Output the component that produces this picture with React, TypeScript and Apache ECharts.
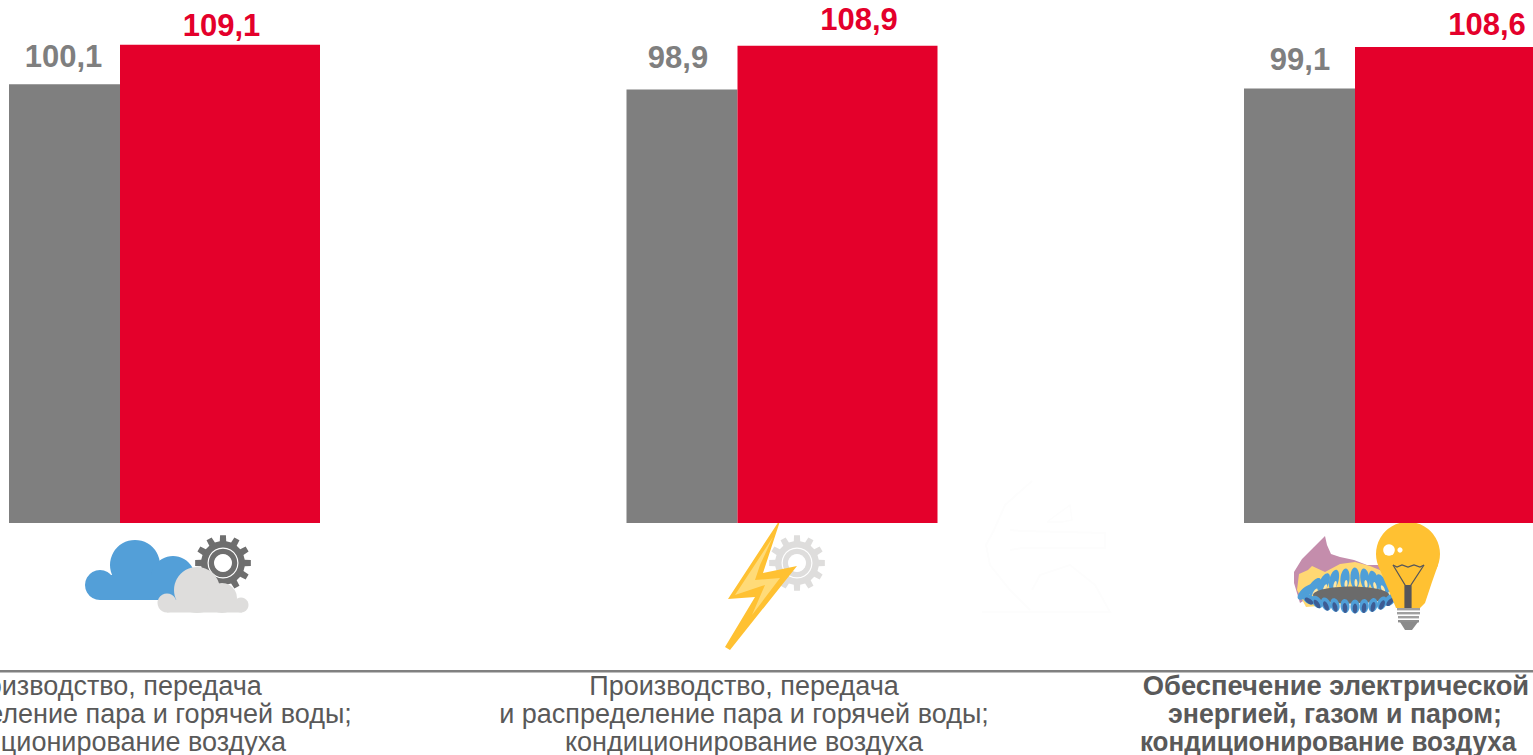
import React, { useEffect, useRef } from "react";
import * as echarts from "echarts";

const categories = ["Производство 1", "Производство 2", "Обеспечение"];
const prevValues = [100.1, 98.9, 99.1];
const currValues = [109.1, 108.9, 108.6];
const axisLines = [
  ["Производство, передача", "и распределение пара и горячей воды;", "кондиционирование воздуха"],
  ["Производство, передача", "и распределение пара и горячей воды;", "кондиционирование воздуха"],
  ["Обеспечение электрической", "энергией, газом и паром;", "кондиционирование воздуха"],
];

const prevLabelOffsets = [[-1, -12], [-4, -16], [0.5, -14]];
const currLabelOffsets = [[1.5, -4], [21.5, -11], [32, -7]];
const textCenters = [107, 744, 1335];
const boldLineScale = [0.977, 0.956, 0.929];
const boldLineShift = [1, 0, -7];
const fmt = (v: number) => v.toFixed(1).replace(".", ",");

function gear(cx: number, cy: number, outer: number, root: number, fill: string) {
  const pts: number[][] = [];
  const teeth = 12;
  const step = (Math.PI * 2) / teeth;
  for (let i = 0; i < teeth; i++) {
    const a = i * step - Math.PI / 2;
    const w = step * 0.2;
    const w2 = step * 0.28;
    pts.push([cx + root * Math.cos(a - w2), cy + root * Math.sin(a - w2)]);
    pts.push([cx + outer * Math.cos(a - w), cy + outer * Math.sin(a - w)]);
    pts.push([cx + outer * Math.cos(a + w), cy + outer * Math.sin(a + w)]);
    pts.push([cx + root * Math.cos(a + w2), cy + root * Math.sin(a + w2)]);
  }
  return [
    { type: "polygon", shape: { points: pts }, style: { fill } },
    { type: "circle", shape: { cx, cy, r: root - 1 }, style: { fill } },
    { type: "ring", shape: { cx, cy, r: 15.5, r0: 14.3 }, style: { fill: "#fff" } },
    { type: "circle", shape: { cx, cy, r: 9 }, style: { fill: "#fff" } },
  ];
}
const circle = (cx: number, cy: number, r: number, fill: string) => ({ type: "circle", shape: { cx, cy, r }, style: { fill } });
const rect = (x: number, y: number, width: number, height: number, fill: string, r = 0) => ({ type: "rect", shape: { x, y, width, height, r }, style: { fill } });
const poly = (points: number[][], fill: string) => ({ type: "polygon", shape: { points }, style: { fill } });
const lineEl = (points: number[][], stroke: string, lineWidth = 1.5) => ({ type: "polyline", shape: { points }, style: { stroke, lineWidth, fill: "none" } });
const oval = (x: number, y: number, rx: number, ry: number, deg: number, fill: string) => ({
  type: "ellipse", x, y, rotation: (deg * Math.PI) / 180, shape: { cx: 0, cy: 0, rx, ry }, style: { fill },
});

function cloudIcon() {
  const blue = "#539FD8", grey = "#DEDDDC";
  return [
    ...gear(223, 563, 28, 22, "#6E6E6E"),
    circle(135, 565, 25, blue), circle(100, 585, 15, blue), circle(173, 578, 22, blue),
    rect(100, 575, 85, 25, blue),
    circle(197, 590, 23, grey), circle(167, 603, 9.5, grey), circle(241, 605, 7.5, grey), circle(222, 598, 15, grey),
    rect(167, 600, 75, 12.5, grey),
  ];
}
function boltIcon() {
  return [
    ...gear(797, 563, 28, 22, "#DEDDDC"),
    poly([[781, 518], [728, 599], [755, 597], [725, 647], [730, 650], [797, 566], [763, 573]], "#FFC132"),
    poly([[773, 537], [735, 595], [765, 585], [752, 615], [780, 578], [755, 580], [760, 565]], "#FFDB78"),
  ];
}
function burnerIcon() {
  const topFlames = [
    [1306, 592, -48], [1314, 587, -35], [1324, 583, -24], [1334, 580, -14], [1345, 579, -5],
    [1355, 578, 2], [1365, 579, 8], [1374, 581, 15], [1382, 584, 25], [1390, 590, 38],
  ];
  const lowFlames = [
    [1309, 601, 55], [1317, 604, 35], [1326, 606, 25], [1335, 607, 15], [1345, 608, 5], [1355, 608.5, 0],
    [1364, 608, -5], [1373, 607, -12], [1382, 605, -25], [1390, 602, -40],
  ];
  return [
    poly([[1294, 583], [1294, 572], [1302, 559], [1314, 547], [1325, 536], [1327, 545], [1331, 554], [1340, 557], [1354, 560], [1367, 565], [1385, 565], [1395, 575], [1380, 585], [1320, 590], [1300, 603]], "#C48DAC"),
    poly([[1297, 590], [1299, 574], [1308, 570], [1312, 566], [1325, 572], [1340, 564], [1355, 562], [1370, 566], [1392, 575], [1392, 600], [1306, 607]], "#FFD873"),
    ...topFlames.map(([x, y, d]) => oval(x, y, 4.6, 10.5, d, "#4F9FD8")),
    ...topFlames.map(([x, y, d]) => oval(x + 1, y + 5, 1.5, 4, d, "#FFE7A6")),
    oval(1351, 595, 38, 8.5, 0, "#6B6B6B"),
    ...lowFlames.map(([x, y, d]) => oval(x, y - 2, 4.5, 7, d, "#4F9FD8")),
    ...lowFlames.map(([x, y, d]) => oval(x, y, 2.3, 5, d, "#3D5C94")),
    circle(1408, 554, 32, "#FFC132"),
    poly([[1378, 565], [1385, 582], [1392, 598], [1396, 608], [1420, 608], [1425, 603], [1432, 582], [1438, 565]], "#FFC132"),
    circle(1389, 550, 5.8, "#fff"), circle(1400, 550, 2.6, "#fff"),
    lineEl([[1393, 565], [1397, 567], [1402, 565], [1408, 567], [1414, 565], [1420, 567], [1424, 565]], "#55555A", 1.2),
    lineEl([[1393, 565], [1405, 585], [1405, 608]], "#55555A", 1.2),
    lineEl([[1424, 565], [1411, 585], [1411, 608]], "#55555A", 1.2),
    rect(1405, 585, 6, 23, "#55555A"),
    rect(1397, 608, 23, 2.4, "#A0A0A0"), rect(1397, 612, 23, 2.4, "#A0A0A0"), rect(1398, 616, 21, 2.4, "#A0A0A0"), rect(1398, 620, 21, 2.4, "#8E8E8E"),
    poly([[1400, 622], [1418, 622], [1412, 630], [1405, 630]], "#8A8A8A"),
  ];
}
function faintIcon() {
  const c = "#FDFDFD";
  return [
    lineEl([[1032, 481], [1005, 505], [994, 530], [986, 545], [990, 565], [1010, 590], [1030, 610]], c, 2),
    lineEl([[1010, 530], [1022, 531], [1105, 533], [1105, 548], [1022, 548], [1010, 550]], c, 2),
    lineEl([[1047, 522], [1070, 505], [1072, 520], [1062, 522], [1047, 522]], c, 1.5),
    lineEl([[982, 612], [1110, 612], [1095, 585], [1070, 565], [1040, 575], [1032, 590]], c, 2),
  ];
}

export default function App() {
  const ref = useRef<HTMLDivElement>(null);
  useEffect(() => {
    document.body.style.margin = "0";
    document.body.style.overflow = "hidden";
    const chart = echarts.init(ref.current!, undefined, { renderer: "svg" });
    const label = (color: string) => ({
      show: true, position: "top", distance: 0, color, fontFamily: "Liberation Sans", fontWeight: "bold", fontSize: 31,
      formatter: (p: any) => fmt(p.value),
    });
    const texts: any[] = [];
    axisLines.forEach((lines, i) => {
      lines.forEach((t, j) => {
        const bold = i === 2;
        texts.push({
          type: "text", x: textCenters[i] + (bold ? boldLineShift[j] : 0), y: 685 + j * 28.3, scaleX: bold ? boldLineScale[j] : 0.965,
          style: {
            text: t, align: "center", verticalAlign: "middle", fill: "#595959",
            font: `${bold ? "bold " : ""}28px "Liberation Sans"`,
          },
        });
      });
    });
    chart.setOption({
      animation: false,
      grid: { left: -144.25, width: 1852.5, top: -3, height: 526, outerBoundsMode: "none" },
      xAxis: { type: "category", data: categories, axisLine: { show: false }, axisTick: { show: false }, axisLabel: { show: false } },
      yAxis: { type: "value", min: 0, max: 120, show: false, splitLine: { show: false } },
      series: [
        {
          type: "bar", name: "prev", barWidth: 111, barGap: 0, itemStyle: { color: "#7F7F7F" }, label: label("#7F7F7F"),
          data: prevValues.map((value, i) => ({ value, label: { offset: prevLabelOffsets[i] } })),
        },
        {
          type: "bar", name: "curr", barWidth: 200, barGap: 0, itemStyle: { color: "#E4002B" }, label: label("#E4002B"),
          data: currValues.map((value, i) => ({ value, label: { offset: currLabelOffsets[i] } })),
        },
      ],
      graphic: { elements: [
        ...cloudIcon(), ...boltIcon(), ...faintIcon(), ...burnerIcon(),
        rect(0, 670, 1533, 2.6, "#808080"),
        ...texts,
      ] },
    });
    return () => chart.dispose();
  }, []);
  return <div ref={ref} style={{ width: 1533, height: 755 }} />;
}
